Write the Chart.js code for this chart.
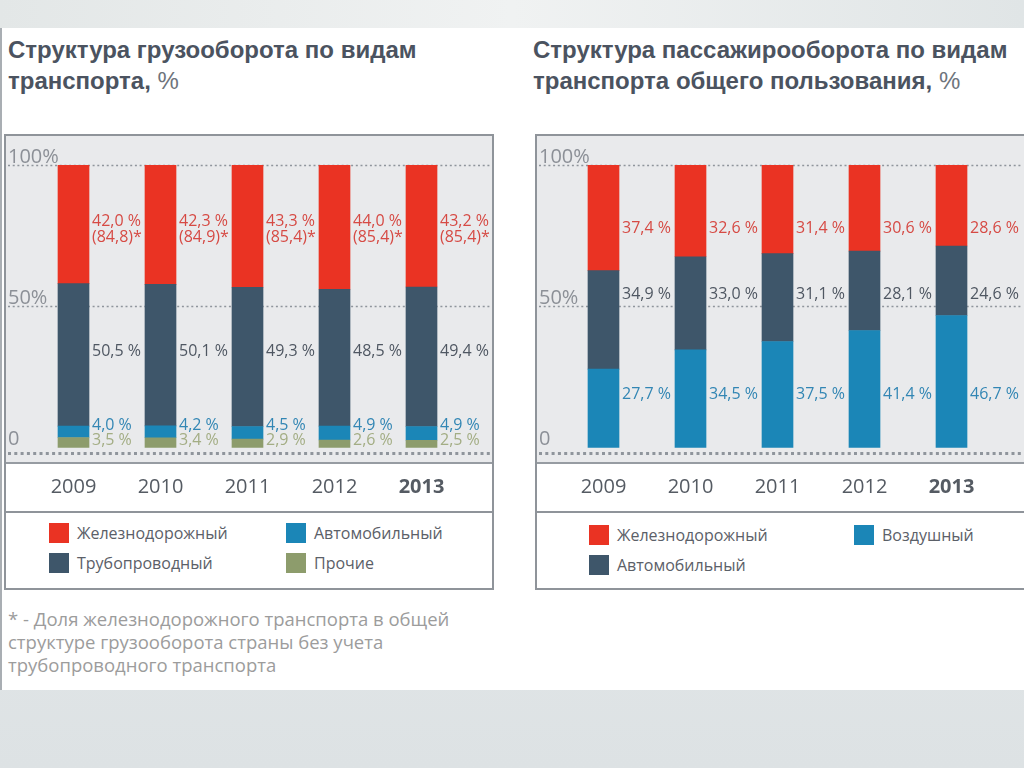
<!DOCTYPE html>
<html lang="ru">
<head>
<meta charset="UTF-8">
<title>Структура грузооборота и пассажирооборота</title>
<script src="https://cdn.jsdelivr.net/npm/chart.js"></script>
<style>
body { margin: 0; width: 1024px; height: 768px; overflow: hidden; position: relative;
       font-family: "Open Sans", sans-serif; background: linear-gradient(#eef1f2, #dde2e4); }
#topband { position: absolute; left: 0; top: 0; width: 1024px; height: 28px;
           background: linear-gradient(90deg, #e3e7e7, #f0f2f2 50%, #e0e5e6); }
#sheet { position: absolute; left: 0; top: 28px; width: 1022px; height: 662px; background: #fff;
         border-left: 2px solid #a9aeb3; }
.title { position: absolute; top: 34px; font-family: "Liberation Sans Narrow", sans-serif; font-weight: bold;
         font-size: 24px; line-height: 31px; color: #4b5360; white-space: nowrap; }
.title span { font-weight: normal; color: #6e747c; }
.frame { position: absolute; top: 134px; height: 456px; box-sizing: border-box; border: 2px solid #8f949a; background: #fff; }
.plotbg { position: absolute; left: 0; right: 0; top: 0; height: 326px; background: #e9eaec; border-bottom: 2px solid #979ca2; }
.yearsep { position: absolute; left: 0; right: 0; top: 375px; border-top: 2px solid #8f949a; }
canvas { position: absolute; }
.legend { position: absolute; display: grid; row-gap: 10px; }
.legend div { display: flex; align-items: center; font-size: 16px; color: #5b6068; height: 20px; }
.legend i { display: inline-block; width: 20px; height: 20px; margin-right: 8px; }
#note { position: absolute; left: 8px; top: 607px; font-size: 18.5px; line-height: 23px; color: #9c9c9c; }
</style>
</head>
<body>
<div id="topband"></div>
<div id="sheet"></div>

<div class="title" style="left:8px">Структура грузооборота по видам<br>транспорта, <span>%</span></div>
<div class="title" style="left:533px">Структура пассажирооборота по видам<br>транспорта общего пользования, <span>%</span></div>

<div class="frame" style="left:4px; width:490px"><div class="plotbg"></div><div class="yearsep"></div></div>
<div class="frame" style="left:535px; width:500px"><div class="plotbg"></div><div class="yearsep"></div></div>

<canvas id="freightChart" width="486" height="385" style="left:6px; top:136px"></canvas>
<canvas id="passChart" width="487" height="385" style="left:537px; top:136px"></canvas>

<div class="legend" id="freightLegend" style="left:49px; top:523px; grid-template-columns: 237px auto"></div>
<div class="legend" id="passLegend" style="left:589px; top:525px; grid-template-columns: 265px auto"></div>

<div id="note">* - Доля железнодорожного транспорта в общей<br>структуре грузооборота страны без учета<br>трубопроводного транспорта</div>

<script>
const years = ['2009', '2010', '2011', '2012', '2013'];
const boldYear = '2013';
const yTickValues = [0, 50, 100];
const yTickLabels = ['0', '50%', '100%'];

// грузооборот, %
const freightOther = [3.5, 3.4, 2.9, 2.6, 2.5];
const freightAuto = [4.0, 4.2, 4.5, 4.9, 4.9];
const freightPipe = [50.5, 50.1, 49.3, 48.5, 49.4];
const freightRail = [42.0, 42.3, 43.3, 44.0, 43.2];
const freightRailNoPipe = [84.8, 84.9, 85.4, 85.4, 85.4];

// пассажирооборот, %
const passAir = [27.7, 34.5, 37.5, 41.4, 46.7];
const passAuto = [34.9, 33.0, 31.1, 28.1, 24.6];
const passRail = [37.4, 32.6, 31.4, 30.6, 28.6];

const RED = '#ea3323', SLATE = '#3e566a', BLUE = '#1b86b7', OLIVE = '#8d9c6c';

function fmt(v) {
    return v.toFixed(1).replace('.', ',');
}

const decor = {
    id: 'decor',
    beforeDatasetsDraw(chart) {
        const ctx = chart.ctx, y = chart.scales.y, w = chart.width;
        ctx.save();
        ctx.strokeStyle = '#8f959c';
        ctx.lineWidth = 1.5;
        ctx.setLineDash([2, 2.7]);
        [50, 100].forEach(v => {
            const py = Math.round(y.getPixelForValue(v)) + 0.5;
            ctx.beginPath(); ctx.moveTo(2, py); ctx.lineTo(w - 2, py); ctx.stroke();
        });
        ctx.lineWidth = 3;
        ctx.setLineDash([3, 3.3]);
        const by = Math.round(chart.chartArea.bottom) + 0.5;
        ctx.beginPath(); ctx.moveTo(2, by); ctx.lineTo(w - 2, by); ctx.stroke();
        ctx.setLineDash([]);
        ctx.font = '20px "Open Sans"';
        ctx.fillStyle = '#8c9097';
        ctx.textAlign = 'left';
        ctx.textBaseline = 'alphabetic';
        yTickValues.forEach((v, i) => ctx.fillText(yTickLabels[i], 2, y.getPixelForValue(v) - 2));
        ctx.restore();
    },
    afterDatasetsDraw(chart) {
        const ctx = chart.ctx, y = chart.scales.y;
        ctx.save();
        ctx.font = '16px "Open Sans"';
        ctx.textAlign = 'left';
        ctx.textBaseline = 'middle';
        chart.data.datasets.forEach((ds, i) => {
            const meta = chart.getDatasetMeta(i);
            ctx.fillStyle = ds.labelColor;
            const py = y.getPixelForValue(ds.labelLevel);
            meta.data.forEach((bar, j) => {
                const px = bar.x + bar.width / 2 + 3;
                const txt = fmt(ds.data[j]) + ' %';
                if (ds.extra) {
                    ctx.fillText(txt, px, py - 8);
                    ctx.fillText('(' + fmt(ds.extra[j]) + ')*', px, py + 8);
                } else {
                    ctx.fillText(txt, px, py);
                }
            });
        });
        ctx.restore();
    }
};

function makeChart(id, datasets, padLeft, padRight) {
    return new Chart(document.getElementById(id), {
        type: 'bar',
        data: { labels: years, datasets: datasets },
        options: {
            responsive: false,
            animation: false,
            layout: { padding: { top: 29, left: padLeft, right: padRight, bottom: 0 } },
            datasets: { bar: { barThickness: 31 } },
            scales: {
                x: {
                    stacked: true,
                    grid: { display: false, drawTicks: false },
                    border: { display: false },
                    ticks: {
                        padding: 22,
                        color: '#555b63',
                        font: c => ({ family: 'Open Sans', size: 20,
                                      weight: years[c.index] === boldYear ? 'bold' : 'normal' })
                    }
                },
                y: { stacked: true, display: false, min: -2, max: 100 }
            },
            plugins: { legend: { display: false }, tooltip: { enabled: false } }
        },
        plugins: [decor]
    });
}

const freightSeries = [
    { label: 'Прочие', data: freightOther, backgroundColor: OLIVE, labelColor: '#a3ad84', labelLevel: 2.3 },
    { label: 'Автомобильный', data: freightAuto, backgroundColor: BLUE, labelColor: '#3286b4', labelLevel: 7.9 },
    { label: 'Трубопроводный', data: freightPipe, backgroundColor: SLATE, labelColor: '#4f5762', labelLevel: 33.8 },
    { label: 'Железнодорожный', data: freightRail, extra: freightRailNoPipe, backgroundColor: RED, labelColor: '#d64a44', labelLevel: 77.3 }
];
const passSeries = [
    { label: 'Воздушный', data: passAir, backgroundColor: BLUE, labelColor: '#3286b4', labelLevel: 18.6 },
    { label: 'Автомобильный', data: passAuto, backgroundColor: SLATE, labelColor: '#4f5762', labelLevel: 54.0 },
    { label: 'Железнодорожный', data: passRail, backgroundColor: RED, labelColor: '#d64a44', labelLevel: 77.7 }
];

makeChart('freightChart', freightSeries, 24, 27);
makeChart('passChart', passSeries, 23, 29);

function buildLegend(id, series, order) {
    const box = document.getElementById(id);
    order.forEach(name => {
        const s = series.find(d => d.label === name);
        const item = document.createElement('div');
        item.innerHTML = '<i style="background:' + s.backgroundColor + '"></i>' + s.label;
        box.appendChild(item);
    });
}
buildLegend('freightLegend', freightSeries, ['Железнодорожный', 'Автомобильный', 'Трубопроводный', 'Прочие']);
buildLegend('passLegend', passSeries, ['Железнодорожный', 'Воздушный', 'Автомобильный']);
</script>
</body>
</html>
